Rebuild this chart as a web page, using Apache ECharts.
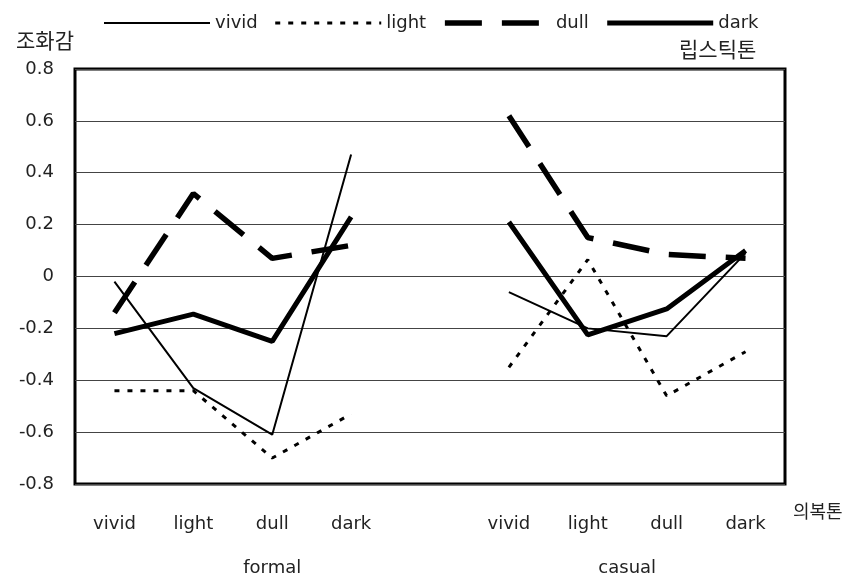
<!DOCTYPE html>
<html>
<head>
<meta charset="utf-8">
<script src="https://cdn.jsdelivr.net/npm/echarts@6/dist/echarts.min.js"></script>
<style>html,body{margin:0;padding:0;background:#fff;}#c{width:855px;height:579px;}</style>
</head>
<body>
<div id="c"></div>
<script>
const categories = ['vivid', 'light', 'dull', 'dark', '', 'vivid', 'light', 'dull', 'dark'];
const groupLabels = ['formal', 'casual'];
const groupPositions = [2, 6.5];
const seriesNames = ['vivid', 'light', 'dull', 'dark'];
const vividValues = [-0.02, -0.43, -0.61, 0.47, null, -0.06, -0.20, -0.23, 0.09];
const lightValues = [-0.44, -0.44, -0.70, -0.53, null, -0.35, 0.065, -0.46, -0.29];
const dullValues = [-0.14, 0.32, 0.07, 0.12, null, 0.62, 0.15, 0.085, 0.07];
const darkValues = [-0.22, -0.145, -0.25, 0.23, null, 0.21, -0.225, -0.125, 0.10];
const yTicks = [-0.8, -0.6, -0.4, -0.2, 0, 0.2, 0.4, 0.6, 0.8];

const FONT = 'DejaVu Sans';
const KFONT = 'Noto Sans CJK KR';
const chart = echarts.init(document.getElementById('c'), null, {renderer: 'canvas'});

function yLabel(v) {
  const r = Math.round(v * 10) / 10;
  if (r === 0) return '0';
  return (r < 0 ? '-' : '') + Math.abs(r).toFixed(1);
}

const styles = {
  vivid: {color: '#000', width: 2, type: 'solid'},
  light: {color: '#000', width: 3, type: [5, 8]},
  dull: {color: '#000', width: 5.5, type: [37, 20]},
  dark: {color: '#000', width: 5, type: 'solid'}
};
const valuesByName = {vivid: vividValues, light: lightValues, dull: dullValues, dark: darkValues};

chart.setOption({
  backgroundColor: '#fff',
  animation: false,
  title: [
    {text: '조화감', left: 11, top: 25, textStyle: {fontFamily: KFONT, fontSize: 21, fontWeight: 'normal', color: '#222'}},
    {text: '립스틱톤', left: 674, top: 34, textStyle: {fontFamily: KFONT, fontSize: 21, fontWeight: 'normal', color: '#222'}},
    {text: '의복톤', left: 788, top: 497, textStyle: {fontFamily: KFONT, fontSize: 18, fontWeight: 'normal', color: '#222'}}
  ],
  legend: {
    left: 98, top: 9,
    itemWidth: 106, itemHeight: 14, itemGap: 16,
    data: seriesNames.map(n => ({name: n, lineStyle: {width: styles[n].width, type: styles[n].type, color: '#000'}})),
    itemStyle: {opacity: 0},
    textStyle: {fontFamily: FONT, fontSize: 18, color: '#222'}
  },
  grid: {left: 75, right: 70, top: 69, bottom: 95, show: true, borderColor: '#000', borderWidth: 3, backgroundColor: 'transparent'},
  xAxis: [
    {
      type: 'category', data: categories, boundaryGap: true,
      axisLine: {show: false}, axisTick: {show: false}, splitLine: {show: false},
      axisLabel: {fontFamily: FONT, fontSize: 18, color: '#222', margin: 31, interval: 0}
    },
    {
      type: 'value', min: -0.5, max: 8.5, position: 'bottom',
      axisLine: {show: false}, axisTick: {show: false}, splitLine: {show: false},
      axisLabel: {
        fontFamily: FONT, fontSize: 18, color: '#222', margin: 75,
        customValues: groupPositions,
        formatter: function (v) { const i = groupPositions.indexOf(v); return i >= 0 ? groupLabels[i] : ''; }
      }
    }
  ],
  yAxis: {
    type: 'value', min: -0.8, max: 0.8, interval: 0.2,
    axisLine: {show: false}, axisTick: {show: false},
    splitLine: {show: true, lineStyle: {color: '#444', width: 1}},
    axisLabel: {fontFamily: FONT, fontSize: 18, color: '#222', margin: 21, formatter: yLabel}
  },
  series: seriesNames.map(n => ({
    name: n, type: 'line', data: valuesByName[n], symbol: 'none', connectNulls: false,
    lineStyle: styles[n], itemStyle: {color: '#000'}
  }))
});
</script>
</body>
</html>
